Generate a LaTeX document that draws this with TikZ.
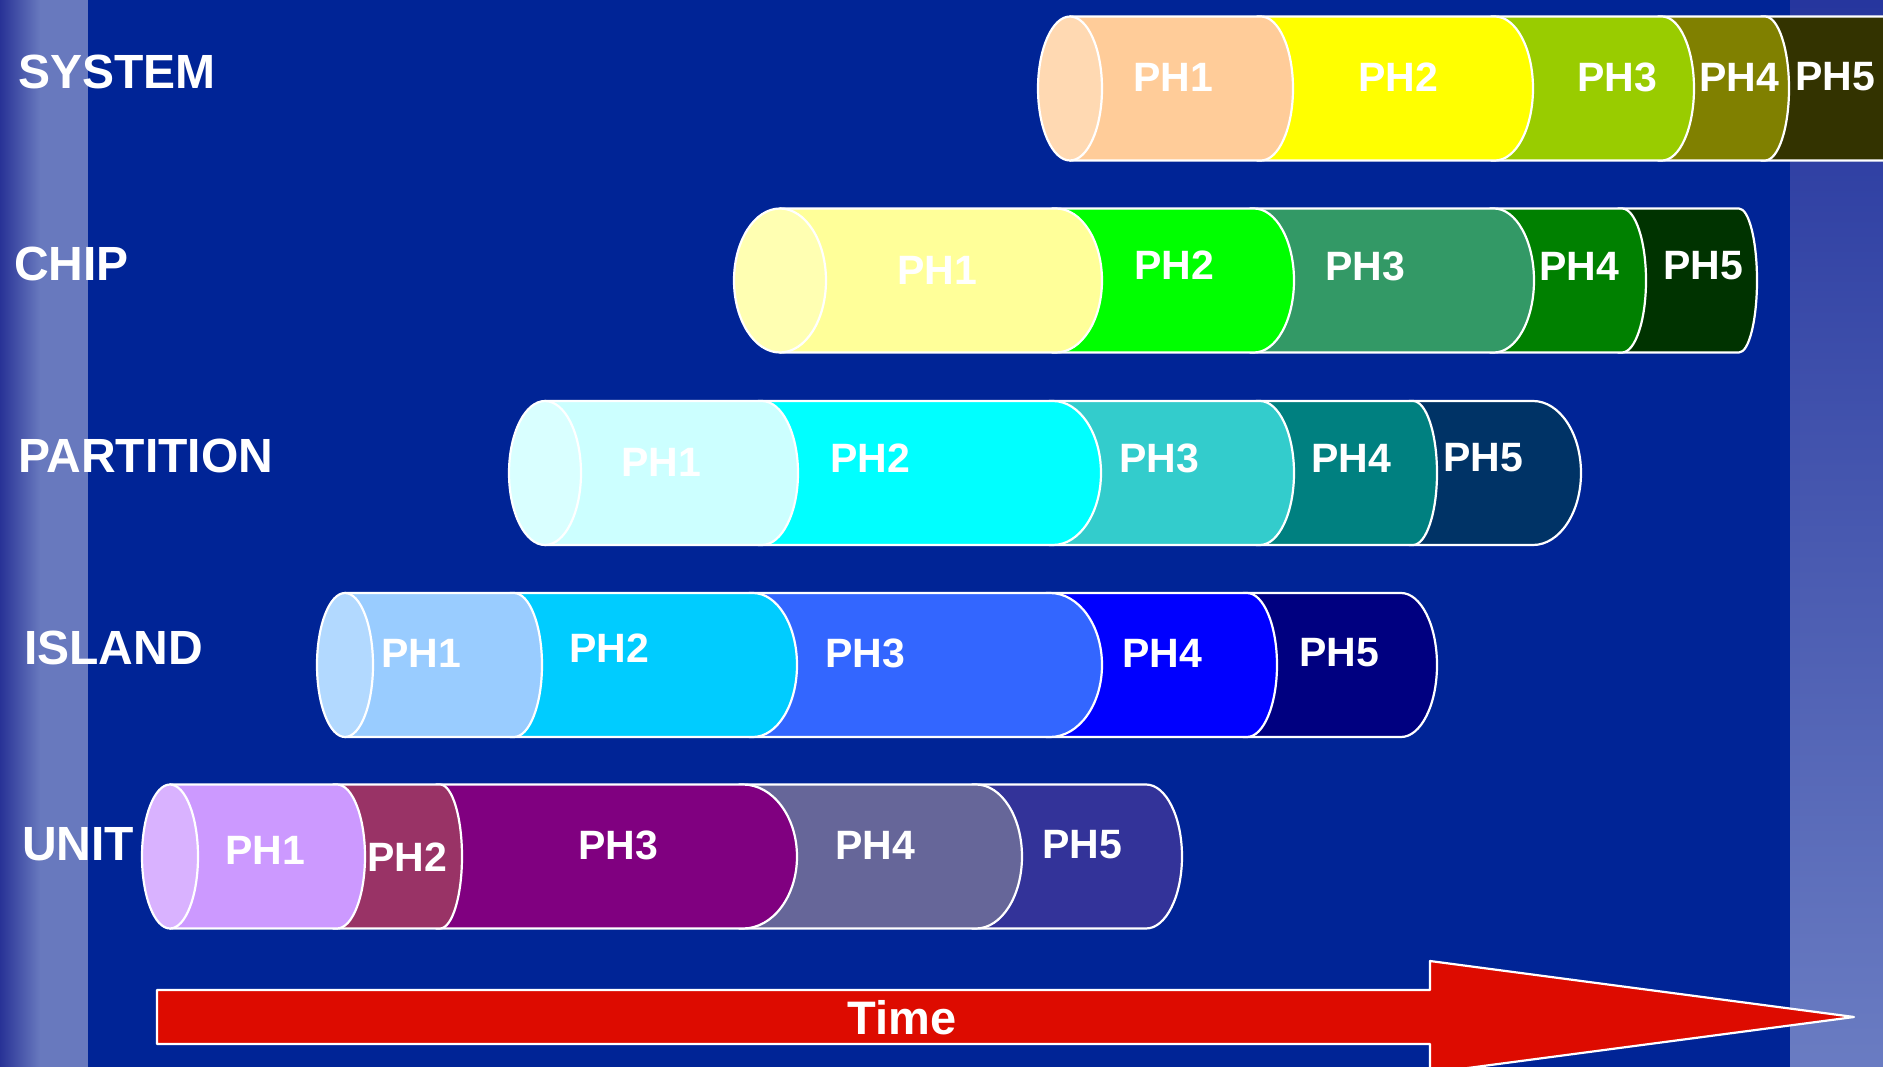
\documentclass[tikz,border=0pt]{standalone}
\usepackage{fontspec}
\setmainfont{Liberation Sans}
\definecolor{bgblue}{RGB}{0,36,150}
\definecolor{stripdark}{RGB}{40,50,150}
\definecolor{striplight}{RGB}{104,121,190}
\definecolor{rstriptop}{RGB}{38,54,158}
\definecolor{rstripbot}{RGB}{106,124,194}
\definecolor{arrowred}{RGB}{221,11,0}
% SYSTEM
\definecolor{s1}{HTML}{FFCC99}\definecolor{s2}{HTML}{FFFF00}\definecolor{s3}{HTML}{99CC00}
\definecolor{s4}{HTML}{808000}\definecolor{s5}{HTML}{333300}
% CHIP
\definecolor{c1}{HTML}{FFFF99}\definecolor{c2}{HTML}{00FF00}\definecolor{c3}{HTML}{339966}
\definecolor{c4}{HTML}{008000}\definecolor{c5}{HTML}{003300}
% PARTITION
\definecolor{p1}{HTML}{CCFFFF}\definecolor{p2}{HTML}{00FFFF}\definecolor{p3}{HTML}{33CCCC}
\definecolor{p4}{HTML}{008080}\definecolor{p5}{HTML}{003366}
% ISLAND
\definecolor{i1}{HTML}{99CCFF}\definecolor{i2}{HTML}{00CCFF}\definecolor{i3}{HTML}{3366FF}
\definecolor{i4}{HTML}{0000FF}\definecolor{i5}{HTML}{000080}
% UNIT
\definecolor{u1}{HTML}{CC99FF}\definecolor{u2}{HTML}{993366}\definecolor{u3}{HTML}{800080}
\definecolor{u4}{HTML}{666699}\definecolor{u5}{HTML}{333399}
\newcommand\cylseg[5]{\filldraw[seg,fill=#5] (#1,#3-72) -- (#2,#3-72) arc[start angle=90,end angle=-90,x radius=#4pt,y radius=72pt] -- (#1,#3+72) -- cycle;}
\newcommand\cylface[4]{\filldraw[seg,fill=#4] (#1,#2) ellipse[x radius=#3pt,y radius=72pt];}
\begin{document}
\begin{tikzpicture}[x=1pt,y=-1pt,
  seg/.style={draw=white,line width=2.2pt,line join=round},
  ph/.style={text=white,font=\bfseries\fontsize{41}{49}\selectfont,inner sep=0pt},
  rowlbl/.style={text=white,font=\bfseries\fontsize{48}{56}\selectfont,inner sep=0pt,anchor=west},
  timelbl/.style={text=white,font=\bfseries\fontsize{47}{56}\selectfont,inner sep=0pt}]
\useasboundingbox (0,0) rectangle (1883,1067);
\fill[bgblue] (0,0) rectangle (1883,1067);
\shade[left color=stripdark,right color=striplight] (0,0) rectangle (40,1067);
\fill[striplight] (39.5,0) rectangle (88,1067);
\shade[top color=rstriptop,bottom color=rstripbot] (1790,0) rectangle (1883,1067);

% SYSTEM row
\cylseg{1761}{1900}{88.5}{30}{s5}
\cylseg{1658}{1765}{88.5}{24}{s4}
\cylseg{1491}{1662}{88.5}{32}{s3}
\cylseg{1257}{1495}{88.5}{38}{s2}
\cylseg{1070}{1261}{88.5}{32}{s1}
\cylface{1070}{88.5}{32}{s1!75!white}
\node[ph] (s1t) at (1173,77) {PH1};
\node[ph] (s2t) at (1398,77) {PH2};
\node[ph] (s3t) at (1617,77) {PH3};
\node[ph] (s4t) at (1739,77) {PH4};
\node[ph] (s5t) at (1835,77) {PH5};

% CHIP row
\cylseg{1618}{1739}{280.5}{18}{c5}
\cylseg{1490}{1622}{280.5}{24}{c4}
\cylseg{1250}{1494}{280.5}{40}{c3}
\cylseg{1052}{1254}{280.5}{40}{c2}
\cylseg{780}{1056}{280.5}{46}{c1}
\cylface{780}{280.5}{46}{c1!75!white}
\node[ph] (c1t) at (937,270) {PH1};
\node[ph] (c2t) at (1174,265) {PH2};
\node[ph] (c3t) at (1365,266) {PH3};
\node[ph] (c4t) at (1579,266) {PH4};
\node[ph] (c5t) at (1703,266) {PH5};

% PARTITION row
\cylseg{1409}{1533}{473}{48}{p5}
\cylseg{1256}{1413}{473}{24}{p4}
\cylseg{1049}{1260}{473}{34}{p3}
\cylseg{758}{1053}{473}{48}{p2}
\cylseg{545}{762}{473}{36}{p1}
\cylface{545}{473}{36}{p1!75!white}
\node[ph] (p1t) at (661,462) {PH1};
\node[ph] (p2t) at (870,458) {PH2};
\node[ph] (p3t) at (1159,458) {PH3};
\node[ph] (p4t) at (1351,458) {PH4};
\node[ph] (p5t) at (1483,458) {PH5};

% ISLAND row
\cylseg{1243}{1401}{665}{36}{i5}
\cylseg{1046}{1247}{665}{30}{i4}
\cylseg{749}{1050}{665}{52}{i3}
\cylseg{510}{753}{665}{44}{i2}
\cylseg{345}{514}{665}{28}{i1}
\cylface{345}{665}{28}{i1!75!white}
\node[ph] (i1t) at (421,653) {PH1};
\node[ph] (i2t) at (609,648) {PH2};
\node[ph] (i3t) at (865,653) {PH3};
\node[ph] (i4t) at (1162,653) {PH4};
\node[ph] (i5t) at (1339,653) {PH5};

% UNIT row
\cylseg{972}{1146}{856.5}{36}{u5}
\cylseg{739}{976}{856.5}{46}{u4}
\cylseg{436}{743}{856.5}{54}{u3}
\cylseg{333}{440}{856.5}{22}{u2}
\cylseg{170}{337}{856.5}{28}{u1}
\cylface{170}{856.5}{28}{u1!75!white}
\node[ph] (u1t) at (265,850) {PH1};
\node[ph] (u2t) at (407,857) {PH2};
\node[ph] (u3t) at (618,845) {PH3};
\node[ph] (u4t) at (875,845) {PH4};
\node[ph] (u5t) at (1082,845) {PH5};

% row labels
\node[rowlbl] (lsys) at (18,72) {SYSTEM};
\node[rowlbl] (lchip) at (14,264) {CHIP};
\node[rowlbl] (lpart) at (18,456) {PARTITION};
\node[rowlbl] (lisl) at (24,648) {ISLAND};
\node[rowlbl] (lunit) at (22,844) {UNIT};

% Time arrow
\filldraw[draw=white,line width=2.2pt,line join=round,fill=arrowred]
  (157,990) -- (1430,990) -- (1430,961) -- (1854,1017) -- (1430,1073) -- (1430,1044) -- (157,1044) -- cycle;
\node[timelbl] (time) at (902,1018) {Time};
\end{tikzpicture}
\end{document}
